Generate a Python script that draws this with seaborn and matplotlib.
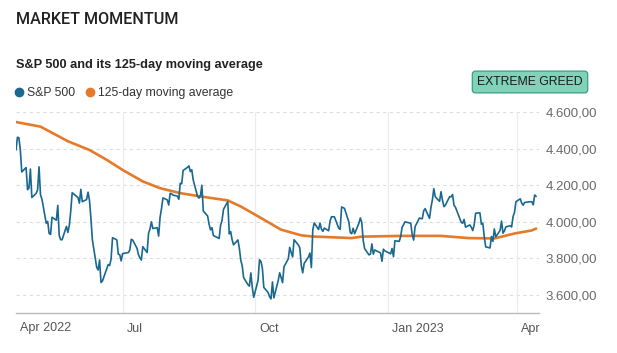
import matplotlib
matplotlib.use("Agg")
import matplotlib.pyplot as plt
import matplotlib.transforms as mtransforms
from matplotlib.lines import Line2D
from matplotlib.ticker import FuncFormatter
import seaborn as sns
import pandas as pd
import numpy as np

# S&P 500 daily closes (Apr 18 2022 - Apr 14 2023)
apr22 = [4392, 4462, 4459, 4394, 4272, 4296, 4175, 4184, 4288, 4132]
may22 = [4155, 4175, 4300, 4147, 4123, 3991, 4001, 3935, 3930, 4024, 4008,
         4089, 3924, 3901, 3901, 3974, 3941, 3979, 4058, 4158, 4132]
jun22 = [4101, 4177, 4109, 4121, 4161, 4116, 4018, 3901, 3750, 3735, 3790,
         3667, 3675, 3765, 3760, 3796, 3912, 3900, 3822, 3819, 3785]
jul22 = [3825, 3831, 3845, 3903, 3899, 3854, 3819, 3802, 3790, 3863, 3831,
         3937, 3960, 3999, 3962, 3967, 3921, 4024, 4072, 4130]
aug22 = [4119, 4091, 4155, 4152, 4145, 4140, 4122, 4210, 4207, 4280, 4297,
         4305, 4274, 4284, 4228, 4138, 4129, 4141, 4199, 4058, 4031, 3986, 3955]
sep22 = [3967, 3924, 3908, 3980, 4006, 4067, 4110, 3933, 3946, 3901, 3873,
         3900, 3856, 3790, 3758, 3693, 3655, 3647, 3719, 3640, 3586]
oct22 = [3678, 3791, 3783, 3745, 3640, 3612, 3589, 3577, 3670, 3583, 3678,
         3720, 3695, 3666, 3753, 3797, 3859, 3831, 3807, 3901, 3872]
nov22 = [3856, 3760, 3720, 3771, 3807, 3828, 3749, 3956, 3993, 3957, 3992,
         3959, 3947, 3965, 3950, 4004, 4027, 4026, 3964, 3958, 4080]
dec22 = [4077, 4072, 3999, 3941, 3934, 3964, 3934, 3991, 4020, 3995, 3896,
         3852, 3818, 3822, 3878, 3822, 3845, 3829, 3783, 3849, 3840]
jan23 = [3824, 3853, 3808, 3895, 3892, 3919, 3970, 3983, 3999, 3991, 3929,
         3899, 3973, 4020, 4017, 4016, 4060, 4071, 4018, 4077]
feb23 = [4119, 4180, 4136, 4111, 4164, 4118, 4082, 4090, 4137, 4136, 4148,
         4090, 4079, 3997, 3991, 4012, 3970, 3982, 3970]
mar23 = [3951, 3981, 4046, 4048, 3986, 3992, 3918, 3862, 3856, 3919, 3892,
         3960, 3917, 3952, 4003, 3937, 3949, 3971, 3978, 3971, 4028, 4051, 4109]
apr23 = [4125, 4101, 4090, 4105, 4109, 4109, 4092, 4146, 4138]

market_holidays = ["2022-05-30", "2022-06-20", "2022-07-04", "2022-09-05",
                   "2022-11-24", "2022-12-26", "2023-01-02", "2023-01-16",
                   "2023-02-20", "2023-04-07"]

# 125-day moving average
ma_dates = ["2022-04-18", "2022-05-05", "2022-05-24", "2022-06-08", "2022-06-20",
            "2022-07-01", "2022-07-15", "2022-07-27", "2022-08-10", "2022-08-24",
            "2022-09-12", "2022-09-21", "2022-10-05", "2022-10-19", "2022-11-02",
            "2022-11-09", "2022-12-07", "2022-12-14", "2023-01-11", "2023-02-07",
            "2023-02-26", "2023-03-16", "2023-03-30", "2023-04-11", "2023-04-14"]
ma_values = [4545, 4520, 4440, 4392, 4338, 4283, 4220, 4183, 4156, 4138,
             4116, 4083, 4020, 3956, 3925, 3919, 3910, 3918, 3922, 3922,
             3910, 3908, 3935, 3952, 3962]

tick_dates = ["2022-07-01", "2022-10-01", "2023-01-01", "2023-04-01"]
tick_labels = ["Jul", "Oct", "Jan 2023", "Apr"]

BLUE = "#1a6890"
ORANGE = "#e57a2a"

closes = apr22 + may22 + jun22 + jul22 + aug22 + sep22 + oct22 + nov22 + dec22 + jan23 + feb23 + mar23 + apr23
days = pd.bdate_range("2022-04-18", "2023-04-14", freq="C", holidays=market_holidays)
spx = pd.DataFrame({"date": days, "value": closes})
ma = pd.DataFrame({"date": pd.to_datetime(ma_dates), "value": ma_values})

sns.set_style("white")
plt.rcParams["font.family"] = ["Liberation Sans", "DejaVu Sans"]

fig = plt.figure(figsize=(6.17, 3.53), dpi=100)
ax = fig.add_axes([16 / 617, 40 / 353, 523 / 617, 201 / 353])

sns.lineplot(data=ma, x="date", y="value", color=ORANGE, linewidth=1.9, ax=ax)
sns.lineplot(data=spx, x="date", y="value", color=BLUE, linewidth=1.2, ax=ax)

ax.set_xlim(pd.Timestamp("2022-04-18"), pd.Timestamp("2023-04-16"))
ax.set_ylim(3500, 4600)
ax.set_xlabel("")
ax.set_ylabel("")

# y axis on the right, european number format
ax.yaxis.tick_right()
ax.set_yticks([3600, 3800, 4000, 4200, 4400, 4600])
ax.yaxis.set_major_formatter(FuncFormatter(
    lambda v, p: f"{v:,.2f}".replace(",", "X").replace(".", ",").replace("X", ".")))
ax.tick_params(axis="y", length=0, pad=5, labelsize=9.5, labelcolor="#6a6a6a")
for lab in ax.get_yticklabels():
    lab.set_ha("left")

ax.set_xticks(pd.to_datetime(tick_dates))
ax.set_xticklabels(tick_labels)
ax.tick_params(axis="x", length=0, pad=7, labelsize=9, labelcolor="#555555")
offset = mtransforms.ScaledTranslation(4 / 100, 0, fig.dpi_scale_trans)
for lab in ax.get_xticklabels():
    lab.set_ha("left")
    lab.set_transform(lab.get_transform() + offset)
ax.text(4 / 523, -0.075, "Apr 2022", transform=ax.transAxes, ha="left",
        va="center", fontsize=9, color="#555555")

ax.grid(False)
for v in [3600, 3800, 4000, 4200, 4400, 4600]:
    ax.axhline(v, color="#dddddd", linewidth=0.8, linestyle=(0, (3, 3)), zorder=0)
for d in pd.to_datetime(tick_dates):
    ax.axvline(d, color="#ececec", linewidth=0.9, zorder=0)

for s in ["top", "left", "right"]:
    ax.spines[s].set_visible(False)
ax.spines["bottom"].set_color("#bbbbbb")
ax.spines["bottom"].set_linewidth(1.0)

fig.text(16 / 617, 1 - 20 / 353, "MARKET MOMENTUM", fontsize=11.6, fontweight="medium",
         family=["Roboto", "DejaVu Sans"], color="#222222", va="center", ha="left")
fig.text(16 / 617, 1 - 65 / 353, "S&P 500 and its 125-day moving average",
         fontsize=9.2, fontweight="bold", color="#222222", va="center", ha="left")

handles = [Line2D([], [], marker="o", linestyle="", markersize=6, color=BLUE),
           Line2D([], [], marker="o", linestyle="", markersize=6, color=ORANGE)]
fig.legend(handles, ["S&P 500", "125-day moving average"], loc="center left",
           bbox_to_anchor=(3 / 617, 1 - 93 / 353), ncol=2, frameon=False,
           fontsize=8.8, handlelength=0.8, handletextpad=0.25, columnspacing=0.8,
           labelcolor="#333333")

fig.text(530 / 617, 1 - 82 / 353, "EXTREME GREED", fontsize=8.8, color="#1a1a1a",
         ha="center", va="center",
         bbox=dict(boxstyle="round,pad=0.4,rounding_size=0.25",
                   facecolor="#7fd3b9", edgecolor="#3f9c80", linewidth=0.9))

fig.savefig("out.png", dpi=100)
